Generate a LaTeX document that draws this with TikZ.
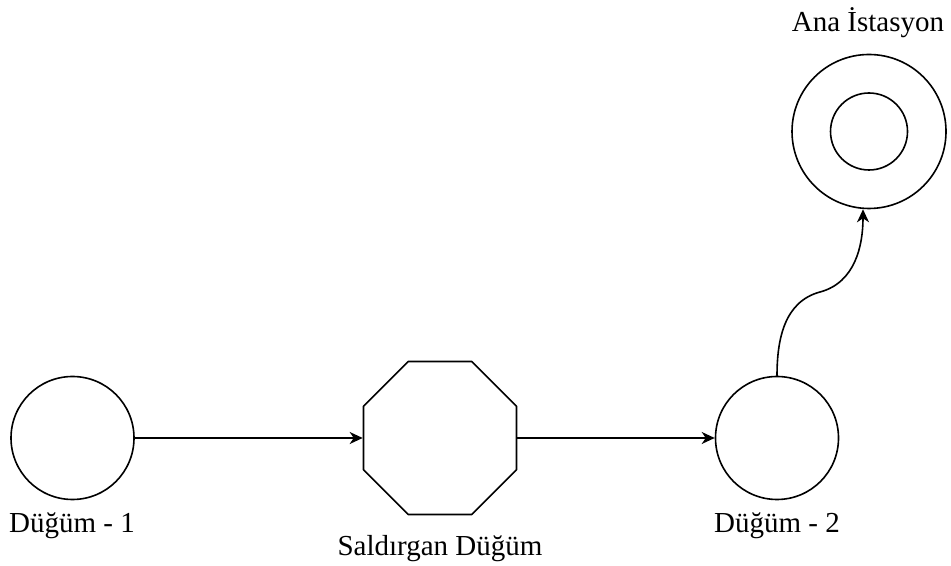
\documentclass[tikz,border=0pt]{standalone}
\usepackage{fontspec}
\setmainfont{Liberation Serif}
\usetikzlibrary{shapes.geometric,arrows.meta}

\begin{document}
\begin{tikzpicture}[x=0.5pt,y=0.5pt,line cap=round,line join=round,
  node/.style={circle,draw,line width=0.8pt,minimum size=61.5pt,inner sep=0pt},
  attacker/.style={regular polygon,regular polygon sides=8,draw,line width=0.8pt,minimum size=82.8pt,inner sep=0pt},
  ring/.style={circle,draw,line width=0.8pt,inner sep=0pt},
  caption/.style={anchor=base,font=\fontsize{14.5}{17}\selectfont},
  link/.style={line width=0.8pt,-{Stealth[length=6.5pt,width=6pt,inset=2pt]}}]
\path[use as bounding box] (0,0) rectangle (951,566);
% nodes
\node[node] (n1) at (72.5,128) {};
\node[attacker] (atk) at (440,128) {};
\node[node] (n2) at (777,128) {};
\node[ring,minimum size=77pt] (bs) at (869,434.5) {};
\node[ring,minimum size=38.5pt] (bsin) at (bs) {};
\coordinate (bend) at (820,274);
% labels
\node[caption] (l1) at (72,33) {Düğüm - 1};
\node[caption] (latk) at (440,10) {Saldırgan Düğüm};
\node[caption] (l2) at (777,33) {Düğüm - 2};
\node[caption] (lbs) at (868,534) {Ana İstasyon};
% links
\draw[link] (n1.east) -- (atk.west);
\draw[link] (atk.east) -- (n2.west);
\draw[link] (n2.north) to[out=90,in=195] (bend) to[out=15,in=-90] ([xshift=-3]bs.south);
\end{tikzpicture}
\end{document}
